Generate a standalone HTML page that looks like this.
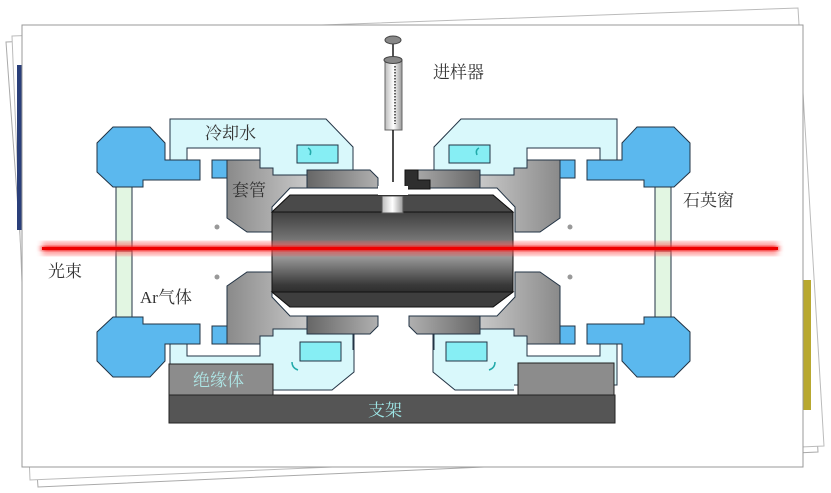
<!DOCTYPE html>
<html><head><meta charset="utf-8"><style>
html,body{margin:0;padding:0;background:#fff;width:831px;height:493px;overflow:hidden}
text{font-family:"Liberation Serif","Noto Serif CJK SC","Noto Sans CJK SC",serif}
</style></head><body>
<svg width="831" height="493" viewBox="0 0 831 493" xmlns="http://www.w3.org/2000/svg">
<defs>
<linearGradient id="cyl" x1="0" y1="0" x2="0" y2="1">
<stop offset="0" stop-color="#1e1e1e"/><stop offset="0.35" stop-color="#6a6a6a"/><stop offset="0.55" stop-color="#9a9a9a"/><stop offset="0.8" stop-color="#3a3a3a"/><stop offset="1" stop-color="#151515"/>
</linearGradient>
<linearGradient id="slv" x1="0" y1="0" x2="1" y2="0">
<stop offset="0" stop-color="#8a8a8a"/><stop offset="1" stop-color="#c8c8c8"/>
</linearGradient>
<linearGradient id="bar" x1="0" y1="0" x2="1" y2="0">
<stop offset="0" stop-color="#666"/><stop offset="1" stop-color="#b0b0b0"/>
</linearGradient>
<linearGradient id="syr" x1="0" y1="0" x2="1" y2="0">
<stop offset="0" stop-color="#bbb"/><stop offset="0.5" stop-color="#fff"/><stop offset="1" stop-color="#999"/>
</linearGradient>
<filter id="blur"><feGaussianBlur stdDeviation="3"/></filter>
<g id="q">
<polygon points="113,127 150,127 165,143 165,160 200,160 200,180 143,180 143,187 113,187 97,172 97,143" fill="#5bb8ee" stroke="#234" stroke-width="1"/>
<rect x="212" y="160" width="15" height="18" fill="#5bb8ee" stroke="#234" stroke-width="1"/>
<rect x="116" y="187" width="16" height="66" fill="#e2f6e2" stroke="#234" stroke-width="1"/>
<polygon points="170,119 326,119 353,147 353,170 307,170 307,175 273,175 273,168 260,168 260,148 187,148 187,160 170,160" fill="#d9f8fb" stroke="#234" stroke-width="1"/>
<polygon points="227,160 260,160 260,168 273,168 273,175 307,175 307,188 290,188 272,207 272,232 247,232 227,218" fill="url(#slv)" stroke="#234" stroke-width="1"/>
<polygon points="307,170 370,170 378,178 378,188 307,188" fill="url(#bar)" stroke="#234" stroke-width="1"/>
<circle cx="217" cy="227" r="2.5" fill="#999"/>
</g>
</defs>
<!-- back sheets -->
<polygon points="6,42 792,12 818,452 38,487" fill="#fff" stroke="#aaa" stroke-width="1"/>
<polygon points="12,36 798,8 824,446 30,480" fill="#fff" stroke="#bbb" stroke-width="1"/>
<rect x="17" y="65" width="5" height="165" fill="#2a3f7a"/>
<rect x="803" y="280" width="8" height="130" fill="#b8a830"/>
<rect x="22" y="25" width="781" height="442" fill="#fff" stroke="#999" stroke-width="1"/>
<!-- quadrants -->
<use href="#q"/>
<use href="#q" transform="matrix(-1 0 0 1 787 0)"/>
<use href="#q" transform="matrix(1 0 0 -1 0 504)"/>
<use href="#q" transform="matrix(-1 0 0 -1 787 504)"/>
<!-- bottom cooling extensions -->
<polygon points="273,350 354,350 354,372 332,390 273,390" fill="#d9f8fb"/>
<polyline points="354,334 354,372 332,390 273,390" fill="none" stroke="#234" stroke-width="1"/>
<polygon points="514,350 433,350 433,372 455,390 514,390" fill="#d9f8fb"/>
<polyline points="433,334 433,372 455,390 514,390" fill="none" stroke="#234" stroke-width="1"/>
<!-- cyan inner rects -->
<rect x="297" y="145" width="41" height="18" fill="#86eef4" stroke="#234" stroke-width="1"/>
<rect x="449" y="145" width="41" height="18" fill="#86eef4" stroke="#234" stroke-width="1"/>
<rect x="300" y="342" width="41" height="19" fill="#86eef4" stroke="#234" stroke-width="1"/>
<rect x="446" y="342" width="41" height="19" fill="#86eef4" stroke="#234" stroke-width="1"/>
<path d="M308,148 q4,2 2,7" stroke="#2aa" stroke-width="1.5" fill="none"/>
<path d="M479,148 q-4,2 -2,7" stroke="#2aa" stroke-width="1.5" fill="none"/>
<path d="M292,362 q0,6 6,8" stroke="#2aa" stroke-width="1.5" fill="none"/>
<path d="M495,362 q0,6 -6,8" stroke="#2aa" stroke-width="1.5" fill="none"/>
<!-- insulators & support -->
<rect x="169" y="364" width="104" height="31" fill="#8c8c8c" stroke="#222" stroke-width="1"/>
<rect x="518" y="363" width="96" height="32" fill="#8c8c8c" stroke="#222" stroke-width="1"/>
<rect x="169" y="395" width="446" height="28" fill="#555" stroke="#222" stroke-width="1"/>
<!-- cylinder -->
<polygon points="290,195 493,195 513,212 513,292 493,307 290,307 272,292 272,212" fill="url(#cyl)" stroke="#111" stroke-width="1"/>
<polygon points="290,195 493,195 513,212 272,212" fill="#4a4a4a" stroke="#111" stroke-width="1"/>
<polygon points="272,292 513,292 493,307 290,307" fill="#3e3e3e" stroke="#111" stroke-width="1"/>
<rect x="382" y="196" width="21" height="17" fill="url(#syr)" stroke="#555" stroke-width="1"/>
<polygon points="405,170 418,170 418,180 430,180 430,189 405,189" fill="#2e2e2e" stroke="#111"/>
<rect x="378" y="186" width="30" height="9" fill="#fff"/>
<!-- syringe -->
<rect x="392" y="42" width="2" height="20" fill="#555"/>
<ellipse cx="393" cy="40" rx="8" ry="4" fill="#888" stroke="#444"/>
<rect x="385" y="60" width="17" height="70" fill="url(#syr)" stroke="#666" stroke-width="1"/>
<ellipse cx="393" cy="60" rx="9" ry="3.5" fill="#888" stroke="#444"/>
<line x1="395" y1="66" x2="395" y2="124" stroke="#333" stroke-width="1.5" stroke-dasharray="1.5,1.5"/>
<line x1="393" y1="130" x2="393" y2="182" stroke="#111" stroke-width="1.5"/>
<!-- beam -->
<rect x="42" y="242" width="736" height="13" fill="#f55" opacity="0.6" filter="url(#blur)"/>
<rect x="42" y="246" width="736" height="5" fill="#ee1111" opacity="0.9" filter="url(#blur)"/>
<rect x="42" y="247" width="736" height="3" fill="#ee0000"/>
<!-- labels -->
<g font-size="17" fill="#333">
<text x="433" y="78">进样器</text>
<text x="205" y="139">冷却水</text>
<text x="232" y="196">套管</text>
<text x="683" y="206">石英窗</text>
<text x="48" y="277">光束</text>
<text x="140" y="303">Ar气体</text>
</g>
<text x="193" y="386" font-size="17" fill="#aee6e6">绝缘体</text>
<text x="368" y="416" font-size="17" fill="#9ee6e6">支架</text>
</svg>
</body></html>
